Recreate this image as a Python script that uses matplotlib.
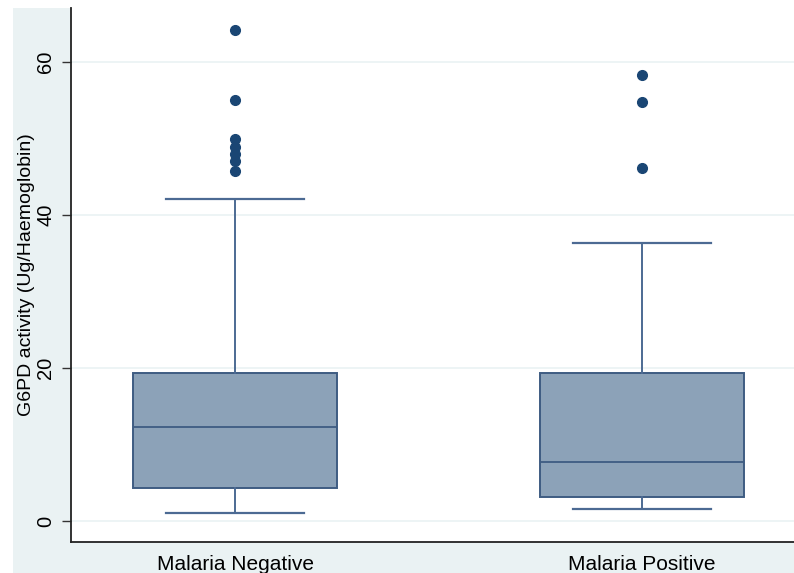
import matplotlib
matplotlib.use("Agg")
import matplotlib.pyplot as plt
from matplotlib.patches import Rectangle

plt.rcParams['font.family'] = ['Liberation Sans', 'DejaVu Sans']

# values (Ug/Haemoglobin)
groups = ['Malaria Negative', 'Malaria Positive']
q1 = [4.3, 3.1]
median = [12.3, 7.7]
q3 = [19.35, 19.4]
whisker_low = [1.05, 1.6]
whisker_high = [42.1, 36.3]
outliers = [
    [64.2, 55.0, 49.9, 48.9, 48.0, 47.0, 45.8],
    [58.3, 54.8, 46.1],
]
y_ticks = [0, 20, 40, 60]

bg = '#EAF2F3'
box_fill = '#8CA2B8'
box_edge = '#3E5C82'
dot = '#1A4674'

fig = plt.figure(figsize=(7.94, 5.73), dpi=100, facecolor='white')
W, H = 794, 573

# outer graph region (stata style), image is cropped at the top/right
bg_ax = fig.add_axes([0, 0, 1, 1], zorder=-1)
bg_ax.axis('off')
bg_ax.set_xlim(0, W)
bg_ax.set_ylim(H, 0)
bg_ax.add_patch(Rectangle((13, 8), W, H, facecolor=bg, edgecolor='none'))

ax = fig.add_axes([71 / W, (H - 542) / H, (W - 71) / W, (542 - 8) / H], zorder=1)
ax.set_facecolor('white')

stats = []
for i in range(len(groups)):
    stats.append({
        'label': groups[i],
        'q1': q1[i], 'med': median[i], 'q3': q3[i],
        'whislo': whisker_low[i], 'whishi': whisker_high[i],
        'fliers': outliers[i],
    })

ax.bxp(stats, positions=[1, 2], widths=0.5, patch_artist=True, capwidths=0.34,
       boxprops=dict(facecolor=box_fill, edgecolor=box_edge, linewidth=1.4),
       medianprops=dict(color=box_edge, linewidth=1.3),
       whiskerprops=dict(color='#4C6A93', linewidth=1.4),
       capprops=dict(color='#4C6A93', linewidth=1.6),
       flierprops=dict(marker='o', markerfacecolor=dot, markeredgecolor=dot,
                       markersize=7))

ax.set_xlim(0.597, 2.373)
ax.set_ylim(-2.75, 67.05)
ax.set_yticks(y_ticks)
ax.set_yticklabels([str(t) for t in y_ticks], rotation=90, va='center', fontsize=14.5)
ax.yaxis.grid(True, color=bg, linewidth=1.2)
ax.set_axisbelow(True)
ax.tick_params(axis='y', length=6.5, width=1.0, color='#333333', pad=5)
ax.tick_params(axis='x', length=0, labelsize=15, pad=9)
ax.set_ylabel('G6PD activity (Ug/Haemoglobin)', fontsize=14, labelpad=1)

for side in ['top', 'right']:
    ax.spines[side].set_visible(False)
for side in ['left', 'bottom']:
    ax.spines[side].set_color('#222222')
    ax.spines[side].set_linewidth(1.3)

fig.savefig('out.png', dpi=100, facecolor='white')
